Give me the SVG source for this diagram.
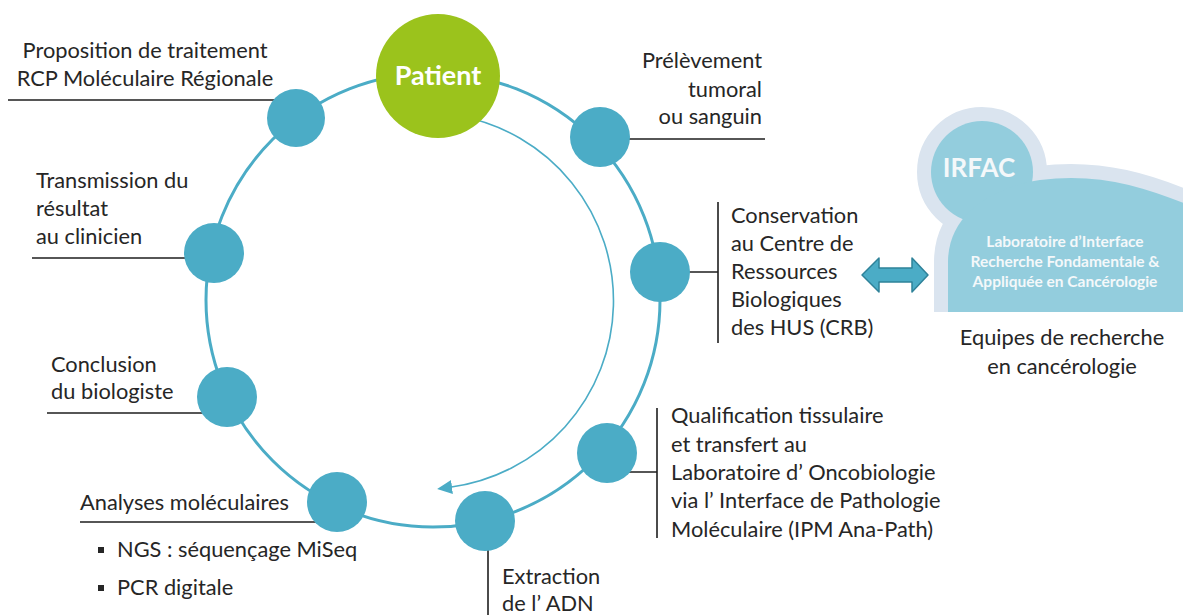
<svg xmlns="http://www.w3.org/2000/svg" width="1183" height="615" viewBox="0 0 1183 615">
<style>
.lbl{font-family:Lato,"Liberation Sans",sans-serif;font-size:21.8px;fill:#262626}
.lead{stroke:#1e1e1e;stroke-width:1.6;fill:none}
.node{fill:#4BACC6}
.ring{stroke:#4BACC6;stroke-width:3;fill:none}
.irf{font-family:Lato,"Liberation Sans",sans-serif;font-weight:bold;fill:#F4F8FA;text-anchor:middle}
</style>
<defs>
<marker id="ah" markerUnits="userSpaceOnUse" markerWidth="18" markerHeight="16" refX="2" refY="7" orient="auto">
<path d="M0,0 L15,7 L0,14 z" fill="#4BACC6"/>
</marker>
<clipPath id="irclip"><rect x="880" y="0" width="303" height="312"/></clipPath>
</defs>
<rect width="1183" height="615" fill="#fff"/>
<g id="connectors">
<circle class="ring" cx="433" cy="300" r="227"/>
<path d="M460,116 A188,188 0 0 1 450,487.2" stroke="#4BACC6" stroke-width="1.6" fill="none" marker-end="url(#ah)"/>
<line class="lead" x1="8" y1="100" x2="280" y2="100"/>
<line class="lead" x1="32" y1="258" x2="200" y2="258"/>
<line class="lead" x1="47" y1="413" x2="215" y2="413"/>
<line class="lead" x1="80" y1="522" x2="320" y2="522"/>
<line class="lead" x1="488" y1="540" x2="488" y2="615"/>
<line class="lead" x1="615" y1="139" x2="765" y2="139"/>
<line class="lead" x1="680" y1="272" x2="718" y2="272"/>
<line class="lead" x1="718" y1="202" x2="718" y2="343"/>
<line class="lead" x1="620" y1="472" x2="657" y2="472"/>
<line class="lead" x1="657" y1="408" x2="657" y2="538"/>
<path d="M862,275 L879,258 L879,268 L912,268 L912,258 L928,275 L912,292 L912,282 L879,282 L879,292 Z" fill="#4BACC6" stroke="#2E8299" stroke-width="1.5" stroke-linejoin="round"/>
</g>
<g id="patient">
<circle cx="438" cy="76" r="62" fill="#9BC31C"/>
<text x="438" y="85" text-anchor="middle" style="font-family:Lato,'Liberation Sans',sans-serif;font-weight:bold;font-size:27px;fill:#fff">Patient</text>
</g>
<g id="n-prelevement">
<circle class="node" cx="600" cy="137" r="30"/>
<text class="lbl" text-anchor="end"><tspan x="762" y="68">Prélèvement</tspan><tspan x="762" y="97">tumoral</tspan><tspan x="762" y="124">ou sanguin</tspan></text>
</g>
<g id="n-conservation">
<circle class="node" cx="660" cy="272" r="30"/>
<text class="lbl"><tspan x="731" y="223">Conservation</tspan><tspan x="731" y="251">au Centre de</tspan><tspan x="731" y="279">Ressources</tspan><tspan x="731" y="307">Biologiques</tspan><tspan x="731" y="335">des HUS (CRB)</tspan></text>
</g>
<g id="n-qualification">
<circle class="node" cx="607" cy="453" r="30"/>
<text class="lbl"><tspan x="671" y="423">Qualification tissulaire</tspan><tspan x="671" y="452">et transfert au</tspan><tspan x="671" y="480">Laboratoire d’ Oncobiologie</tspan><tspan x="671" y="508">via l’ Interface de Pathologie</tspan><tspan x="671" y="537">Moléculaire (IPM Ana-Path)</tspan></text>
</g>
<g id="n-extraction">
<circle class="node" cx="485" cy="521" r="30"/>
<text class="lbl"><tspan x="502" y="584">Extraction</tspan><tspan x="502" y="611">de l’ ADN</tspan></text>
</g>
<g id="n-analyses">
<circle class="node" cx="337" cy="502" r="30"/>
<text class="lbl" x="80" y="510">Analyses moléculaires</text>
<rect x="98" y="547" width="6" height="6" fill="#262626"/>
<rect x="98" y="585" width="6" height="6" fill="#262626"/>
<text class="lbl" x="117" y="557">NGS : séquençage MiSeq</text>
<text class="lbl" x="117" y="595">PCR digitale</text>
</g>
<g id="n-conclusion">
<circle class="node" cx="227" cy="397" r="30"/>
<text class="lbl"><tspan x="51" y="372">Conclusion</tspan><tspan x="51" y="399">du biologiste</tspan></text>
</g>
<g id="n-transmission">
<circle class="node" cx="214" cy="253" r="30"/>
<text class="lbl"><tspan x="36" y="188">Transmission du</tspan><tspan x="36" y="216">résultat</tspan><tspan x="36" y="244">au clinicien</tspan></text>
</g>
<g id="n-proposition">
<circle class="node" cx="296" cy="118" r="29"/>
<text class="lbl" text-anchor="middle"><tspan x="145" y="58">Proposition de traitement</tspan><tspan x="145" y="86">RCP Moléculaire Régionale</tspan></text>
</g>
<g id="irfac">
<g clip-path="url(#irclip)">
<g fill="#DAE4EF" stroke="#DAE4EF" stroke-width="28" stroke-linejoin="round">
<circle cx="982" cy="172" r="51"/>
<path d="M948,330 L948,262 C948,215 990,188 1040,180 C1100,172 1150,188 1200,210 L1200,330 Z"/>
</g>
<g fill="#93CDDD">
<circle cx="982" cy="172" r="51"/>
<path d="M948,330 L948,262 C948,215 990,188 1040,180 C1100,172 1150,188 1200,210 L1200,330 Z"/>
</g>
</g>
<text class="irf" x="979" y="177" font-size="26">IRFAC</text>
<text class="irf" font-size="15.5"><tspan x="1065" y="247">Laboratoire d’Interface</tspan><tspan x="1065" y="267">Recherche Fondamentale &amp;</tspan><tspan x="1065" y="287">Appliquée en Cancérologie</tspan></text>
<text class="lbl" text-anchor="middle"><tspan x="1062" y="345">Equipes de recherche</tspan><tspan x="1062" y="374">en cancérologie</tspan></text>
</g>
</svg>
